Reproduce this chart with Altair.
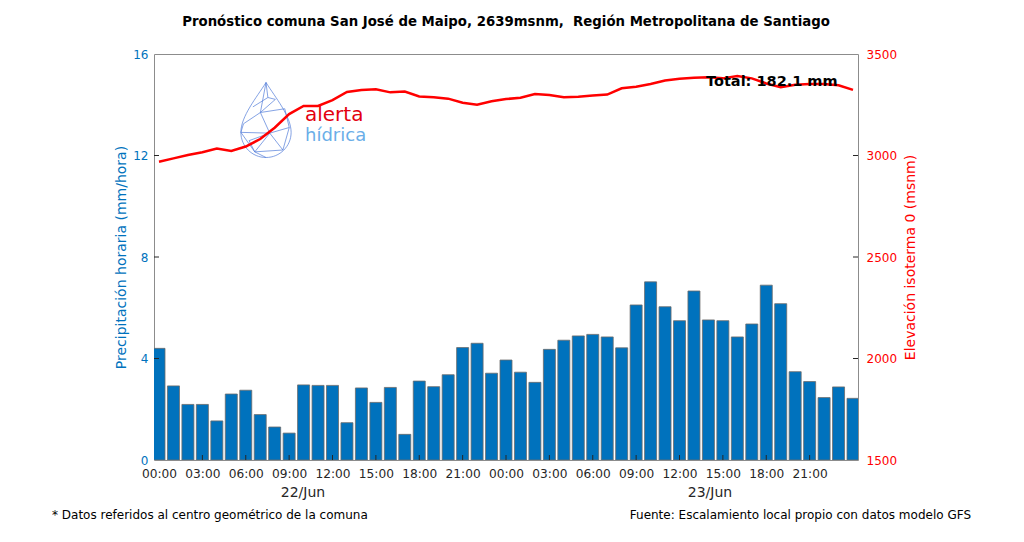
import altair as alt
import pandas as pd

# ---------------- data ----------------
hours = list(range(49))  # 22/Jun 00:00 .. 24/Jun 00:00
precip = [4.40, 2.92, 2.19, 2.19, 1.54, 2.60, 2.75, 1.79, 1.30, 1.06,
          2.96, 2.94, 2.94, 1.47, 2.84, 2.27, 2.86, 1.01, 3.11, 2.89,
          3.36, 4.43, 4.60, 3.42, 3.94, 3.46, 3.06, 4.36, 4.72, 4.89,
          4.95, 4.85, 4.42, 6.11, 7.02, 6.04, 5.49, 6.66, 5.52, 5.49,
          4.85, 5.36, 6.89, 6.16, 3.48, 3.09, 2.46, 2.88, 2.43]
isoterma = [2969, 2986, 3002, 3016, 3034, 3022, 3044, 3081, 3137, 3204,
            3244, 3244, 3273, 3313, 3323, 3326, 3311, 3315, 3291, 3287,
            3280, 3260, 3250, 3267, 3278, 3285, 3303, 3298, 3287, 3290,
            3295, 3300, 3331, 3339, 3352, 3369, 3378, 3383, 3385, 3380,
            3392, 3380, 3355, 3336, 3349, 3352, 3352, 3346, 3323]
x_tick_hours = list(range(0, 48, 3))
left_ticks = [0, 4, 8, 12, 16]
right_ticks = [1500, 2000, 2500, 3000, 3500]
day_labels = ["22/Jun", "23/Jun"]

title_text = "Pronóstico comuna San José de Maipo, 2639msnm,\u00a0 Región Metropolitana de Santiago"
total_text = "Total: 182.1 mm"
left_title = "Precipitación horaria (mm/hora)"
right_title = "Elevación isoterma 0 (msnm)"
foot_left = "* Datos referidos al centro geométrico de la comuna"
foot_right = "Fuente: Escalamiento local propio con datos modelo GFS"

BLUE = "#0072BD"
RED = "#FF0000"
DARK = "#262626"

df = pd.DataFrame({"h": hours, "precip": precip, "iso": isoterma})
one = pd.DataFrame({"a": [0]})

W, H = 704, 406
xscale = alt.Scale(domain=[0, 48], nice=False, zero=False)
yl_scale = alt.Scale(domain=[0, 16], nice=False)
yr_scale = alt.Scale(domain=[1500, 3500], nice=False)

x_axis = alt.Axis(values=x_tick_hours, title=None, ticks=False, domain=False, grid=False,
                  labelExpr="((datum.value % 24) < 10 ? '0' : '') + (datum.value % 24) + ':00'",
                  labelFontSize=12.2, labelColor=DARK, labelPadding=7, labelFlush=False)
yl_axis = alt.Axis(values=left_ticks, title=left_title, ticks=False, domain=False, grid=False,
                   labelColor=BLUE, labelFontSize=12, labelPadding=6,
                   titleColor=BLUE, titleFontSize=14, titleFontWeight="normal", titlePadding=4)
yr_axis = alt.Axis(values=right_ticks, title=right_title, orient="right", ticks=False, format="d",
                   domain=False, grid=False, labelColor=RED, labelFontSize=12, labelPadding=8,
                   titleColor=RED, titleFontSize=14, titleFontWeight="normal", titlePadding=7,
                   titleAngle=270, titleBaseline="top")

X = alt.X("h:Q", scale=xscale, axis=x_axis)
YL = alt.Y("precip:Q", scale=yl_scale, axis=yl_axis)
YR = alt.Y("iso:Q", scale=yr_scale, axis=yr_axis)

bars = alt.Chart(df).mark_bar(width=12, color=BLUE, stroke="#6b6b6b", strokeWidth=0.8, clip=True).encode(
    x=X, y=YL)

ltick = alt.Chart(pd.DataFrame({"precip": left_ticks[1:-1]})).mark_rule(color=DARK, strokeWidth=1).encode(
    y=YL, x=alt.value(0), x2=alt.value(5))

xtick = alt.Chart(pd.DataFrame({"h": x_tick_hours[1:]})).mark_rule(color=DARK, strokeWidth=1).encode(
    x=X, y=alt.value(H), y2=alt.value(H - 5))

drop_path = ("M0,-1 C0.25,-0.6 0.67,-0.1 0.67,0.33 A0.67,0.67 0 0 1 -0.67,0.33 "
             "C-0.67,-0.1 -0.25,-0.6 0,-1 Z "
             "M0,-1 L-0.15,-0.2 L0.25,-0.55 M-0.15,-0.2 L0.5,-0.3 M-0.15,-0.2 L-0.6,0.1 "
             "M-0.15,-0.2 L0.1,0.35 L0.62,0.2 M0.1,0.35 L-0.67,0.33 M0.1,0.35 L-0.3,0.85 "
             "M0.1,0.35 L0.45,0.8 M-0.67,0.33 L-0.3,0.85 L0.45,0.8 M-0.3,0.85 L0,1 "
             "M0.5,-0.3 L0.62,0.2 M0.62,0.2 L0.45,0.8 M0,-1 L0.05,-0.6 L-0.35,-0.35 "
             "M0.05,-0.6 L0.25,-0.55 M-0.6,0.1 L-0.67,0.33 M-0.3,0.85 L-0.45,0.55 L0.1,0.35")
logo_drop = alt.Chart(one).mark_point(shape=drop_path, size=5625, filled=False,
                                      stroke="#3f6fd6", strokeWidth=0.7, opacity=0.9).encode(
    x=alt.value(112), y=alt.value(66))
logo_a = alt.Chart(one).mark_text(text="alerta", align="left", baseline="alphabetic",
                                  fontSize=20, color="#E3000F", font="DejaVu Sans").encode(
    x=alt.value(151), y=alt.value(67))
logo_h = alt.Chart(one).mark_text(text="hídrica", align="left", baseline="alphabetic",
                                  fontSize=18, color="#6AAEE8", font="DejaVu Sans").encode(
    x=alt.value(151), y=alt.value(87))

days = alt.Chart(pd.DataFrame({"d": day_labels, "px": [149, 556]})).mark_text(
    fontSize=14, color=DARK, baseline="middle").encode(
    x=alt.X("px:Q", scale=None), y=alt.value(439), text="d:N")

foot1 = alt.Chart(one).mark_text(text=foot_left, align="left", baseline="middle",
                                 fontSize=12, color="black").encode(x=alt.value(-102), y=alt.value(461))
foot2 = alt.Chart(one).mark_text(text=foot_right, align="right", baseline="middle",
                                 fontSize=12, color="black").encode(x=alt.value(817), y=alt.value(461))

left = alt.layer(bars, ltick, xtick, logo_drop, logo_a, logo_h, days, foot1, foot2)

line = alt.Chart(df).mark_line(color=RED, strokeWidth=2.5, clip=True).encode(x=X, y=YR)
rtick = alt.Chart(pd.DataFrame({"iso": right_ticks[1:-1]})).mark_rule(color=DARK, strokeWidth=1).encode(
    y=YR, x=alt.value(W - 5), x2=alt.value(W))
right = alt.layer(line, rtick)

total = alt.Chart(one).mark_text(text=total_text, align="left", baseline="middle",
                                 fontSize=14.5, fontWeight="bold", color="black").encode(
    x=alt.value(552), y=alt.value(28))

chart = alt.layer(left, right, total).resolve_scale(y="independent").properties(
    width=W, height=H,
    autosize=alt.AutoSizeParams(type="none"),
    padding={"left": 146, "top": 46, "right": 158, "bottom": 74},
    title=alt.TitleParams(title_text, fontSize=13.3, fontWeight="bold", color="black",
                          anchor="middle", frame="group", offset=20),
).configure(font="DejaVu Sans").configure_view(stroke="#8c8c8c", strokeWidth=1)

chart.save("out.html", embed_options={"renderer": "svg", "actions": False})
